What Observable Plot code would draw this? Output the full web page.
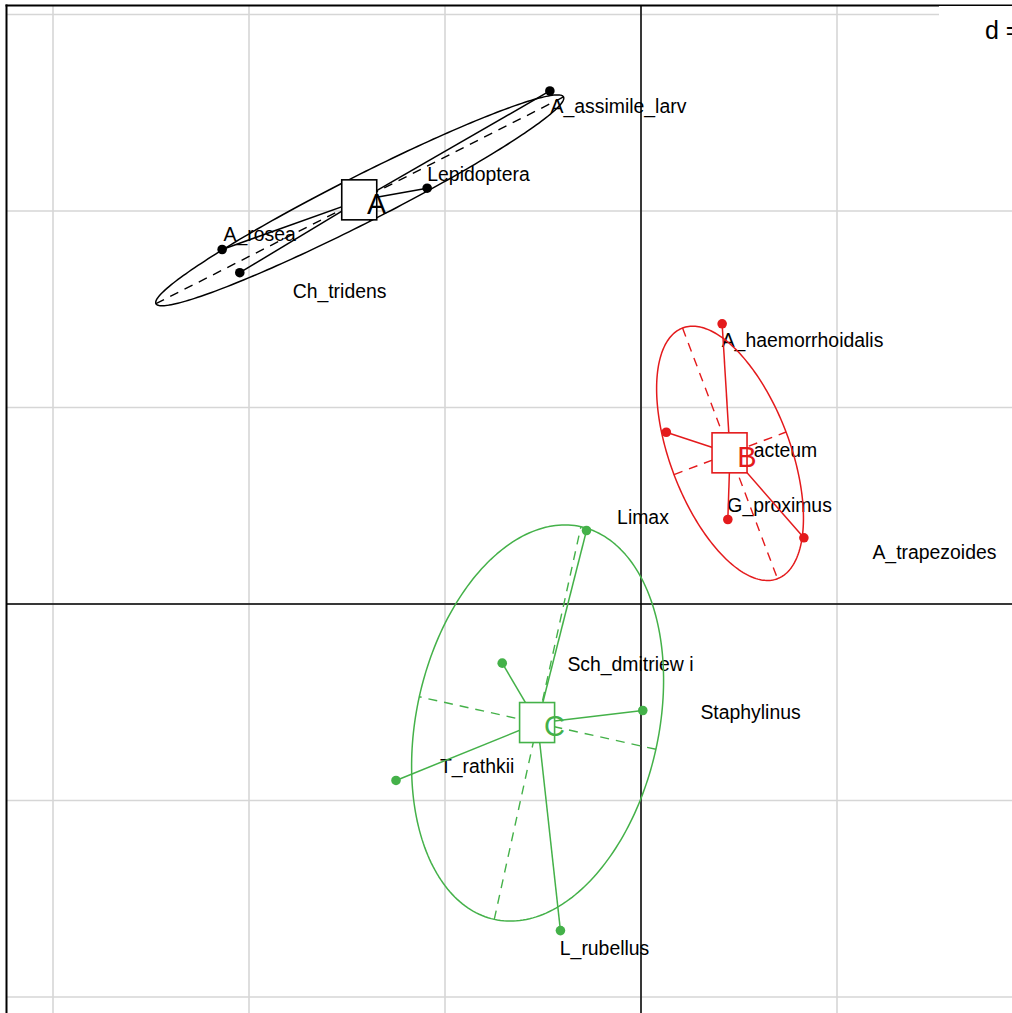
<!DOCTYPE html>
<html><head><meta charset="utf-8">
<script src="https://cdn.jsdelivr.net/npm/d3@7"></script>
<script src="https://cdn.jsdelivr.net/npm/@observablehq/plot@0.6"></script>
<style>
body{margin:0;background:#fff;}
#chart svg{overflow:hidden;display:block;}
</style>
</head><body><div id="chart"></div>
<script>
// ---- data (grid units, d = 1) ----
const pointNames = ["A_assimile_larv","Lepidoptera","A_rosea","Ch_tridens","A_haemorrhoidalis","acteum","G_proximus","A_trapezoides","Limax","Sch_dmitriew i","Staphylinus","T_rathkii","L_rubellus"];
const pointGroup = ["A","A","A","A","B","B","B","B","C","C","C","C","C"];
const pointX = [-0.465,-1.091,-2.137,-2.047, 0.414,0.129,0.443,0.831, -0.278,-0.708,0.009,-1.250,-0.411];
const pointY = [2.611,2.116,1.804,1.686, 1.426,0.874,0.430,0.337, 0.374,-0.301,-0.542,-0.898,-1.662];
const labelX = [-0.115,-0.829,-1.946,-1.538, 0.824,0.737,0.707,1.497, 0.010,-0.054,0.559,-0.836,-0.186];
const labelY = [2.529,2.186,1.880,1.590, 1.338,0.781,0.501,0.260, 0.438,-0.308,-0.552,-0.827,-1.753];
const groupNames = ["A","B","C"];
const groupColors = ["#000000","#e41a1c","#44b149"];
const gridX = [-3,-2,-1,0,1];
const gridY = [3,2,1,0,-1,-2];
const scaleLabel = "d = 1";
const cellipse = 1.5;

// ---- derived tables ----
const pts = pointNames.map((n,i)=>({name:n, group:pointGroup[i], x:pointX[i], y:pointY[i], lx:labelX[i], ly:labelY[i]}));
const colorOf = g => groupColors[groupNames.indexOf(g)];
const stats = groupNames.map(g=>{
  const p = pts.filter(d=>d.group===g);
  const n = p.length;
  const mx = d3.mean(p,d=>d.x), my = d3.mean(p,d=>d.y);
  const a = d3.sum(p,d=>(d.x-mx)**2)/n, c = d3.sum(p,d=>(d.y-my)**2)/n, b = d3.sum(p,d=>(d.x-mx)*(d.y-my))/n;
  const m = (a+c)/2, r = Math.sqrt(((a-c)/2)**2 + b*b);
  const l1 = m + r, l2 = Math.max(m - r, 0);
  const th = 0.5*Math.atan2(2*b, a-c);
  const e1 = [Math.cos(th), Math.sin(th)], e2 = [-Math.sin(th), Math.cos(th)];
  const s1 = cellipse*Math.sqrt(l1), s2 = cellipse*Math.sqrt(l2);
  return {group:g, color:colorOf(g), mx, my, e1, e2, s1, s2};
});
const ellipse = [];
stats.forEach(s=>{
  for(let k=0;k<=240;k++){
    const t = 2*Math.PI*k/240;
    ellipse.push({group:s.group, color:s.color,
      x: s.mx + s.s1*Math.cos(t)*s.e1[0] + s.s2*Math.sin(t)*s.e2[0],
      y: s.my + s.s1*Math.cos(t)*s.e1[1] + s.s2*Math.sin(t)*s.e2[1]});
  }
});
const axesSeg = [];
stats.forEach(s=>{
  axesSeg.push({color:s.color, x1:s.mx - s.s1*s.e1[0], y1:s.my - s.s1*s.e1[1], x2:s.mx + s.s1*s.e1[0], y2:s.my + s.s1*s.e1[1]});
  axesSeg.push({color:s.color, x1:s.mx - s.s2*s.e2[0], y1:s.my - s.s2*s.e2[1], x2:s.mx + s.s2*s.e2[0], y2:s.my + s.s2*s.e2[1]});
});
const stars = pts.map(d=>{const s = stats.find(q=>q.group===d.group); return {color:s.color, x1:s.mx, y1:s.my, x2:d.x, y2:d.y};});

const PXX = 196, PXY = 196.5;
const font = "Liberation Sans, Arial, Helvetica, sans-serif";

const scaleBox = (index, scales, values, dim) => {
  const g = d3.create("svg:g");
  g.append("rect").attr("x", dim.width-73).attr("y", dim.marginTop+1).attr("width", 80).attr("height", 45).attr("fill","white");
  g.append("text").attr("x", dim.width-27).attr("y", 39).attr("text-anchor","start").attr("font-size", 25).attr("font-family", font).attr("fill","black").text(scaleLabel);
  return g.node();
};

const chart = Plot.plot({
  width: 1012, height: 1013,
  marginLeft: 6, marginTop: 5, marginRight: 0, marginBottom: 0,
  x: {domain:[0,1], range:[640.5, 640.5+PXX], axis:null},
  y: {domain:[0,1], range:[603.5, 603.5-PXY], axis:null},
  style: {fontFamily: font, background: "white"},
  marks: [
    Plot.ruleX(gridX, {stroke:"#d6d6d6", strokeWidth:1.6}),
    Plot.ruleY(gridY, {stroke:"#d6d6d6", strokeWidth:1.6}),
    Plot.ruleX([0], {stroke:"black", strokeWidth:1.5}),
    Plot.ruleY([0], {stroke:"black", strokeWidth:1.5}),
    Plot.frame({anchor:"left", stroke:"black", strokeWidth:2}),
    Plot.frame({anchor:"top", stroke:"black", strokeWidth:2}),
    Plot.text(pts, {x:"lx", y:"ly", text:"name", fontSize:19.4, fill:"black", textAnchor:"middle", lineAnchor:"middle"}),
    Plot.line(ellipse, {x:"x", y:"y", z:"group", stroke:"color", strokeWidth:1.5, curve:"linear"}),
    Plot.link(axesSeg, {x1:"x1", y1:"y1", x2:"x2", y2:"y2", stroke:"color", strokeWidth:1.4, strokeDasharray:"9,7"}),
    Plot.link(stars, {x1:"x1", y1:"y1", x2:"x2", y2:"y2", stroke:"color", strokeWidth:1.5}),
    Plot.dot(pts, {x:"x", y:"y", r:4.8, fill:d=>colorOf(d.group), stroke:"none"}),
    Plot.rect(stats, {x1:d=>d.mx-17.5/PXX, x2:d=>d.mx+17.5/PXX, y1:d=>d.my-20/PXY, y2:d=>d.my+20/PXY, fill:"white", stroke:"color", strokeWidth:1.6}),
    Plot.text(stats, {x:"mx", y:"my", text:"group", fill:"color", fontSize:29, dx:17, dy:4, textAnchor:"middle", lineAnchor:"middle"}),
    scaleBox
  ]
});
document.getElementById("chart").appendChild(chart);
</script>
</body></html>
